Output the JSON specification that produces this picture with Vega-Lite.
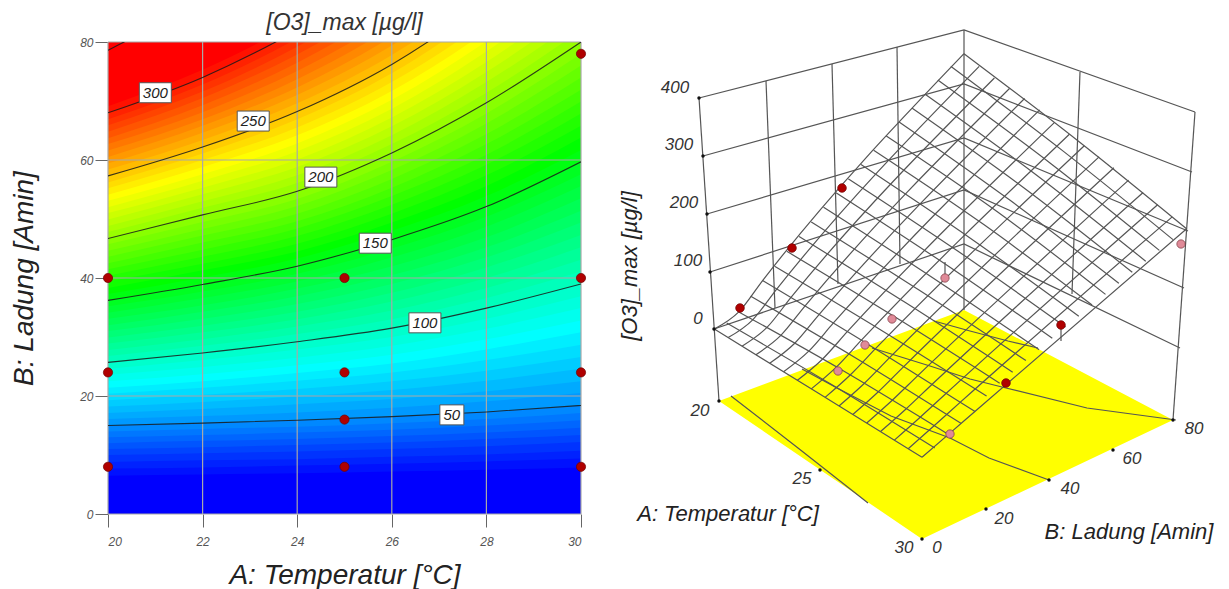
{"$schema":"https://vega.github.io/schema/vega-lite/v6.json","padding":{"left":10,"top":12,"right":0,"bottom":0},"background":"white","spacing":30,"config":{"view":{"stroke":null},"font":"Liberation Sans"},
"datasets":{"contours":[
{"z":0,"A":20,"B":0},{"z":0,"A":22,"B":0},{"z":0,"A":24,"B":0},{"z":0,"A":26,"B":0},{"z":0,"A":28,"B":0},{"z":0,"A":30,"B":0},
{"z":5,"A":20,"B":5},{"z":5,"A":22,"B":5.2},{"z":5,"A":24,"B":5.3},{"z":5,"A":26,"B":5.5},{"z":5,"A":28,"B":5.8},{"z":5,"A":30,"B":6.1},
{"z":10,"A":20,"B":6.5},{"z":10,"A":22,"B":6.7},{"z":10,"A":24,"B":6.9},{"z":10,"A":26,"B":7.2},{"z":10,"A":28,"B":7.5},{"z":10,"A":30,"B":7.9},
{"z":15,"A":20,"B":7.7},{"z":15,"A":22,"B":7.9},{"z":15,"A":24,"B":8.2},{"z":15,"A":26,"B":8.5},{"z":15,"A":28,"B":8.9},{"z":15,"A":30,"B":9.4},
{"z":20,"A":20,"B":8.8},{"z":20,"A":22,"B":9.1},{"z":20,"A":24,"B":9.3},{"z":20,"A":26,"B":9.7},{"z":20,"A":28,"B":10.1},{"z":20,"A":30,"B":10.7},
{"z":25,"A":20,"B":10},{"z":25,"A":22,"B":10.3},{"z":25,"A":24,"B":10.6},{"z":25,"A":26,"B":11},{"z":25,"A":28,"B":11.5},{"z":25,"A":30,"B":12.2},
{"z":30,"A":20,"B":11},{"z":30,"A":22,"B":11.3},{"z":30,"A":24,"B":11.7},{"z":30,"A":26,"B":12.1},{"z":30,"A":28,"B":12.7},{"z":30,"A":30,"B":13.4},
{"z":35,"A":20,"B":12},{"z":35,"A":22,"B":12.4},{"z":35,"A":24,"B":12.7},{"z":35,"A":26,"B":13.2},{"z":35,"A":28,"B":13.8},{"z":35,"A":30,"B":14.6},
{"z":40,"A":20,"B":13},{"z":40,"A":22,"B":13.4},{"z":40,"A":24,"B":13.8},{"z":40,"A":26,"B":14.3},{"z":40,"A":28,"B":15},{"z":40,"A":30,"B":15.9},
{"z":45,"A":20,"B":14},{"z":45,"A":22,"B":14.4},{"z":45,"A":24,"B":14.8},{"z":45,"A":26,"B":15.4},{"z":45,"A":28,"B":16.1},{"z":45,"A":30,"B":17.1},
{"z":50,"A":20,"B":15},{"z":50,"A":22,"B":15.4},{"z":50,"A":24,"B":15.9},{"z":50,"A":26,"B":16.5},{"z":50,"A":28,"B":17.3},{"z":50,"A":30,"B":18.4},
{"z":55,"A":20,"B":16.1},{"z":55,"A":22,"B":16.6},{"z":55,"A":24,"B":17.2},{"z":55,"A":26,"B":18},{"z":55,"A":28,"B":19.1},{"z":55,"A":30,"B":20.5},
{"z":60,"A":20,"B":17.1},{"z":60,"A":22,"B":17.8},{"z":60,"A":24,"B":18.6},{"z":60,"A":26,"B":19.5},{"z":60,"A":28,"B":20.8},{"z":60,"A":30,"B":22.5},
{"z":65,"A":20,"B":18.2},{"z":65,"A":22,"B":19},{"z":65,"A":24,"B":19.9},{"z":65,"A":26,"B":21},{"z":65,"A":28,"B":22.6},{"z":65,"A":30,"B":24.6},
{"z":70,"A":20,"B":19.3},{"z":70,"A":22,"B":20.2},{"z":70,"A":24,"B":21.2},{"z":70,"A":26,"B":22.5},{"z":70,"A":28,"B":24.3},{"z":70,"A":30,"B":26.6},
{"z":75,"A":20,"B":20.4},{"z":75,"A":22,"B":21.4},{"z":75,"A":24,"B":22.6},{"z":75,"A":26,"B":24},{"z":75,"A":28,"B":26.1},{"z":75,"A":30,"B":28.7},
{"z":80,"A":20,"B":21.4},{"z":80,"A":22,"B":22.5},{"z":80,"A":24,"B":23.9},{"z":80,"A":26,"B":25.5},{"z":80,"A":28,"B":27.9},{"z":80,"A":30,"B":30.8},
{"z":85,"A":20,"B":22.5},{"z":85,"A":22,"B":23.7},{"z":85,"A":24,"B":25.2},{"z":85,"A":26,"B":27},{"z":85,"A":28,"B":29.6},{"z":85,"A":30,"B":32.8},
{"z":90,"A":20,"B":23.6},{"z":90,"A":22,"B":24.9},{"z":90,"A":24,"B":26.5},{"z":90,"A":26,"B":28.5},{"z":90,"A":28,"B":31.4},{"z":90,"A":30,"B":34.9},
{"z":95,"A":20,"B":24.6},{"z":95,"A":22,"B":26.1},{"z":95,"A":24,"B":27.9},{"z":95,"A":26,"B":30},{"z":95,"A":28,"B":33.1},{"z":95,"A":30,"B":36.9},
{"z":100,"A":20,"B":25.7},{"z":100,"A":22,"B":27.3},{"z":100,"A":24,"B":29.2},{"z":100,"A":26,"B":31.5},{"z":100,"A":28,"B":34.9},{"z":100,"A":30,"B":39},
{"z":105,"A":20,"B":26.8},{"z":105,"A":22,"B":28.5},{"z":105,"A":24,"B":30.5},{"z":105,"A":26,"B":33},{"z":105,"A":28,"B":36.6},{"z":105,"A":30,"B":41.1},
{"z":110,"A":20,"B":27.8},{"z":110,"A":22,"B":29.6},{"z":110,"A":24,"B":31.8},{"z":110,"A":26,"B":34.5},{"z":110,"A":28,"B":38.3},{"z":110,"A":30,"B":43.1},
{"z":115,"A":20,"B":28.9},{"z":115,"A":22,"B":30.8},{"z":115,"A":24,"B":33},{"z":115,"A":26,"B":36},{"z":115,"A":28,"B":40},{"z":115,"A":30,"B":45.2},
{"z":120,"A":20,"B":29.9},{"z":120,"A":22,"B":31.9},{"z":120,"A":24,"B":34.3},{"z":120,"A":26,"B":37.5},{"z":120,"A":28,"B":41.8},{"z":120,"A":30,"B":47.3},
{"z":125,"A":20,"B":31},{"z":125,"A":22,"B":33.1},{"z":125,"A":24,"B":35.6},{"z":125,"A":26,"B":39},{"z":125,"A":28,"B":43.5},{"z":125,"A":30,"B":49.4},
{"z":130,"A":20,"B":32},{"z":130,"A":22,"B":34.3},{"z":130,"A":24,"B":36.9},{"z":130,"A":26,"B":40.5},{"z":130,"A":28,"B":45.2},{"z":130,"A":30,"B":51.4},
{"z":135,"A":20,"B":33.1},{"z":135,"A":22,"B":35.4},{"z":135,"A":24,"B":38.2},{"z":135,"A":26,"B":42},{"z":135,"A":28,"B":46.9},{"z":135,"A":30,"B":53.5},
{"z":140,"A":20,"B":34.1},{"z":140,"A":22,"B":36.6},{"z":140,"A":24,"B":39.4},{"z":140,"A":26,"B":43.5},{"z":140,"A":28,"B":48.7},{"z":140,"A":30,"B":55.6},
{"z":145,"A":20,"B":35.2},{"z":145,"A":22,"B":37.7},{"z":145,"A":24,"B":40.7},{"z":145,"A":26,"B":45},{"z":145,"A":28,"B":50.4},{"z":145,"A":30,"B":57.6},
{"z":150,"A":20,"B":36.2},{"z":150,"A":22,"B":38.9},{"z":150,"A":24,"B":42},{"z":150,"A":26,"B":46.5},{"z":150,"A":28,"B":52.1},{"z":150,"A":30,"B":59.7},
{"z":155,"A":20,"B":37.3},{"z":155,"A":22,"B":40.1},{"z":155,"A":24,"B":43.3},{"z":155,"A":26,"B":48},{"z":155,"A":28,"B":53.9},{"z":155,"A":30,"B":61.7},
{"z":160,"A":20,"B":38.3},{"z":160,"A":22,"B":41.3},{"z":160,"A":24,"B":44.5},{"z":160,"A":26,"B":49.4},{"z":160,"A":28,"B":55.6},{"z":160,"A":30,"B":63.8},
{"z":165,"A":20,"B":39.4},{"z":165,"A":22,"B":42.4},{"z":165,"A":24,"B":45.8},{"z":165,"A":26,"B":50.9},{"z":165,"A":28,"B":57.4},{"z":165,"A":30,"B":65.8},
{"z":170,"A":20,"B":40.4},{"z":170,"A":22,"B":43.6},{"z":170,"A":24,"B":47.1},{"z":170,"A":26,"B":52.4},{"z":170,"A":28,"B":59.2},{"z":170,"A":30,"B":67.9},
{"z":175,"A":20,"B":41.5},{"z":175,"A":22,"B":44.8},{"z":175,"A":24,"B":48.4},{"z":175,"A":26,"B":53.9},{"z":175,"A":28,"B":60.9},{"z":175,"A":30,"B":69.9},
{"z":180,"A":20,"B":42.5},{"z":180,"A":22,"B":46},{"z":180,"A":24,"B":49.6},{"z":180,"A":26,"B":55.3},{"z":180,"A":28,"B":62.7},{"z":180,"A":30,"B":71.9},
{"z":185,"A":20,"B":43.6},{"z":185,"A":22,"B":47.2},{"z":185,"A":24,"B":50.9},{"z":185,"A":26,"B":56.8},{"z":185,"A":28,"B":64.4},{"z":185,"A":30,"B":74},
{"z":190,"A":20,"B":44.6},{"z":190,"A":22,"B":48.3},{"z":190,"A":24,"B":52.2},{"z":190,"A":26,"B":58.3},{"z":190,"A":28,"B":66.2},{"z":190,"A":30,"B":76},
{"z":195,"A":20,"B":45.7},{"z":195,"A":22,"B":49.5},{"z":195,"A":24,"B":53.4},{"z":195,"A":26,"B":59.7},{"z":195,"A":28,"B":67.9},{"z":195,"A":30,"B":78},
{"z":200,"A":20,"B":46.7},{"z":200,"A":22,"B":50.7},{"z":200,"A":24,"B":54.7},{"z":200,"A":26,"B":61.2},{"z":200,"A":28,"B":69.7},{"z":200,"A":30,"B":80},
{"z":205,"A":20,"B":47.8},{"z":205,"A":22,"B":51.9},{"z":205,"A":24,"B":56.1},{"z":205,"A":26,"B":62.7},{"z":205,"A":28,"B":71.4},{"z":205,"A":30,"B":82},
{"z":210,"A":20,"B":48.8},{"z":210,"A":22,"B":53},{"z":210,"A":24,"B":57.4},{"z":210,"A":26,"B":64.2},{"z":210,"A":28,"B":73.2},{"z":210,"A":30,"B":84},
{"z":215,"A":20,"B":49.9},{"z":215,"A":22,"B":54.2},{"z":215,"A":24,"B":58.8},{"z":215,"A":26,"B":65.7},{"z":215,"A":28,"B":74.9},{"z":215,"A":30,"B":86},
{"z":220,"A":20,"B":51},{"z":220,"A":22,"B":55.3},{"z":220,"A":24,"B":60.1},{"z":220,"A":26,"B":67.2},{"z":220,"A":28,"B":76.6},{"z":220,"A":30,"B":88},
{"z":225,"A":20,"B":52},{"z":225,"A":22,"B":56.5},{"z":225,"A":24,"B":61.5},{"z":225,"A":26,"B":68.7},{"z":225,"A":28,"B":78.4},{"z":225,"A":30,"B":90},
{"z":230,"A":20,"B":53.1},{"z":230,"A":22,"B":57.6},{"z":230,"A":24,"B":62.8},{"z":230,"A":26,"B":70.2},{"z":230,"A":28,"B":80.1},{"z":230,"A":30,"B":92},
{"z":235,"A":20,"B":54.1},{"z":235,"A":22,"B":58.8},{"z":235,"A":24,"B":64.2},{"z":235,"A":26,"B":71.7},{"z":235,"A":28,"B":81.8},{"z":235,"A":30,"B":94},
{"z":240,"A":20,"B":55.2},{"z":240,"A":22,"B":60},{"z":240,"A":24,"B":65.5},{"z":240,"A":26,"B":73.2},{"z":240,"A":28,"B":83.5},{"z":240,"A":30,"B":96},
{"z":245,"A":20,"B":56.2},{"z":245,"A":22,"B":61.1},{"z":245,"A":24,"B":66.9},{"z":245,"A":26,"B":74.7},{"z":245,"A":28,"B":85.3},{"z":245,"A":30,"B":98},
{"z":250,"A":20,"B":57.3},{"z":250,"A":22,"B":62.2},{"z":250,"A":24,"B":68.2},{"z":250,"A":26,"B":76.2},{"z":250,"A":28,"B":87},{"z":250,"A":30,"B":100},
{"z":255,"A":20,"B":58.4},{"z":255,"A":22,"B":63.4},{"z":255,"A":24,"B":69.6},{"z":255,"A":26,"B":77.8},{"z":255,"A":28,"B":88.7},{"z":255,"A":30,"B":102},
{"z":260,"A":20,"B":59.4},{"z":260,"A":22,"B":64.6},{"z":260,"A":24,"B":71},{"z":260,"A":26,"B":79.4},{"z":260,"A":28,"B":90.4},{"z":260,"A":30,"B":104},
{"z":265,"A":20,"B":60.5},{"z":265,"A":22,"B":65.8},{"z":265,"A":24,"B":72.3},{"z":265,"A":26,"B":80.9},{"z":265,"A":28,"B":92.1},{"z":265,"A":30,"B":106},
{"z":270,"A":20,"B":61.6},{"z":270,"A":22,"B":66.9},{"z":270,"A":24,"B":73.7},{"z":270,"A":26,"B":82.5},{"z":270,"A":28,"B":93.8},{"z":270,"A":30,"B":108},
{"z":275,"A":20,"B":62.7},{"z":275,"A":22,"B":68.1},{"z":275,"A":24,"B":75.1},{"z":275,"A":26,"B":84.1},{"z":275,"A":28,"B":95.5},{"z":275,"A":30,"B":110},
{"z":280,"A":20,"B":63.7},{"z":280,"A":22,"B":69.3},{"z":280,"A":24,"B":76.5},{"z":280,"A":26,"B":85.7},{"z":280,"A":28,"B":97.2},{"z":280,"A":30,"B":112},
{"z":285,"A":20,"B":64.8},{"z":285,"A":22,"B":70.5},{"z":285,"A":24,"B":77.9},{"z":285,"A":26,"B":87.3},{"z":285,"A":28,"B":98.9},{"z":285,"A":30,"B":114},
{"z":290,"A":20,"B":65.9},{"z":290,"A":22,"B":71.6},{"z":290,"A":24,"B":79.2},{"z":290,"A":26,"B":88.8},{"z":290,"A":28,"B":100.6},{"z":290,"A":30,"B":116},
{"z":295,"A":20,"B":66.9},{"z":295,"A":22,"B":72.8},{"z":295,"A":24,"B":80.6},{"z":295,"A":26,"B":90.4},{"z":295,"A":28,"B":102.3},{"z":295,"A":30,"B":118},
{"z":300,"A":20,"B":68},{"z":300,"A":22,"B":74},{"z":300,"A":24,"B":82},{"z":300,"A":26,"B":92},{"z":300,"A":28,"B":104},{"z":300,"A":30,"B":120},
{"z":305,"A":20,"B":69.1},{"z":305,"A":22,"B":75.3},{"z":305,"A":24,"B":83.4},{"z":305,"A":26,"B":93.6},{"z":305,"A":28,"B":105.8},{"z":305,"A":30,"B":122},
{"z":350,"A":20,"B":78.6},{"z":350,"A":22,"B":87},{"z":350,"A":24,"B":96},{"z":350,"A":26,"B":108},{"z":350,"A":28,"B":122},{"z":350,"A":30,"B":140}
],
"mesh":[
{"m":"A0","u":716.3,"v":328.1},{"m":"A0","u":740.8,"v":310.9},{"m":"A0","u":764.6,"v":279.6},{"m":"A0","u":966,"v":52.7},
{"m":"A1","u":730.2,"v":336.6},{"m":"A1","u":754.7,"v":318.8},{"m":"A1","u":778.7,"v":288.1},{"m":"A1","u":981.2,"v":65.3},
{"m":"A2","u":744,"v":345.2},{"m":"A2","u":768.7,"v":326.7},{"m":"A2","u":792.8,"v":296.6},{"m":"A2","u":996.4,"v":77},
{"m":"A3","u":757.9,"v":353.7},{"m":"A3","u":782.6,"v":334.6},{"m":"A3","u":806.9,"v":305.1},{"m":"A3","u":1011.5,"v":87.5},
{"m":"A4","u":771.7,"v":362.3},{"m":"A4","u":796.5,"v":342.5},{"m":"A4","u":821,"v":313.6},{"m":"A4","u":1026.6,"v":97.5},
{"m":"A5","u":785.6,"v":370.8},{"m":"A5","u":810.5,"v":350.4},{"m":"A5","u":835.2,"v":322.2},{"m":"A5","u":1041.7,"v":108.9},
{"m":"A6","u":799.4,"v":379.3},{"m":"A6","u":824.4,"v":358.2},{"m":"A6","u":849.3,"v":330.7},{"m":"A6","u":1056.6,"v":121.3},
{"m":"A7","u":813.3,"v":387.9},{"m":"A7","u":838.3,"v":366.1},{"m":"A7","u":863.4,"v":339.2},{"m":"A7","u":1071.4,"v":133.2},
{"m":"A8","u":827.1,"v":396.4},{"m":"A8","u":852.2,"v":374},{"m":"A8","u":877.5,"v":347.7},{"m":"A8","u":1086.3,"v":144.8},
{"m":"A9","u":841,"v":405},{"m":"A9","u":866.2,"v":382.5},{"m":"A9","u":891.6,"v":356.7},{"m":"A9","u":1101.1,"v":155.8},
{"m":"A10","u":854.8,"v":413.5},{"m":"A10","u":880.1,"v":391},{"m":"A10","u":905.7,"v":365.6},{"m":"A10","u":1115.9,"v":166.8},
{"m":"A11","u":868.7,"v":422},{"m":"A11","u":894,"v":399.5},{"m":"A11","u":919.8,"v":374.6},{"m":"A11","u":1130.6,"v":179.1},
{"m":"A12","u":882.5,"v":430.6},{"m":"A12","u":908,"v":408},{"m":"A12","u":933.9,"v":383.5},{"m":"A12","u":1145.1,"v":191.5},
{"m":"A13","u":896.4,"v":439.1},{"m":"A13","u":921.9,"v":416.5},{"m":"A13","u":948,"v":392.5},{"m":"A13","u":1159.6,"v":203.8},
{"m":"A14","u":910.2,"v":447.7},{"m":"A14","u":935.8,"v":425},{"m":"A14","u":962.1,"v":401.4},{"m":"A14","u":1174.2,"v":215.9},
{"m":"A15","u":924,"v":456.2},{"m":"A15","u":950.5,"v":433.4},{"m":"A15","u":976.9,"v":410.5},{"m":"A15","u":1188.6,"v":227.8},
{"m":"B0","u":716.3,"v":328.1},{"m":"B0","u":820.1,"v":392.1},{"m":"B0","u":924,"v":456.2},
{"m":"B1","u":728.7,"v":322.1},{"m":"B1","u":832.7,"v":383},{"m":"B1","u":936.8,"v":447},
{"m":"B2","u":740.8,"v":310.9},{"m":"B2","u":845.2,"v":369.8},{"m":"B2","u":950.5,"v":433.4},
{"m":"B3","u":752.6,"v":295.2},{"m":"B3","u":857.7,"v":357},{"m":"B3","u":963,"v":422.4},
{"m":"B4","u":764.6,"v":279.6},{"m":"B4","u":870.2,"v":343.4},{"m":"B4","u":976.9,"v":410.5},
{"m":"B5","u":776.6,"v":265.2},{"m":"B5","u":882.8,"v":328.9},{"m":"B5","u":988.6,"v":395},
{"m":"B6","u":788.8,"v":250.3},{"m":"B6","u":895.5,"v":315.1},{"m":"B6","u":1001.7,"v":382.2},
{"m":"B7","u":801,"v":235.5},{"m":"B7","u":908.2,"v":302.1},{"m":"B7","u":1014.7,"v":371.2},
{"m":"B8","u":813.2,"v":220.9},{"m":"B8","u":921,"v":289.1},{"m":"B8","u":1027.9,"v":359.6},
{"m":"B9","u":825.5,"v":206.2},{"m":"B9","u":933.9,"v":276.2},{"m":"B9","u":1041,"v":348.7},
{"m":"B10","u":838,"v":191.7},{"m":"B10","u":946.8,"v":262.8},{"m":"B10","u":1054.3,"v":337.2},
{"m":"B11","u":850.4,"v":177.8},{"m":"B11","u":959.7,"v":250},{"m":"B11","u":1067.5,"v":325.9},
{"m":"B12","u":863,"v":163.5},{"m":"B12","u":972.7,"v":237.4},{"m":"B12","u":1080.8,"v":315.2},
{"m":"B13","u":875.6,"v":149.2},{"m":"B13","u":985.8,"v":223.6},{"m":"B13","u":1094.1,"v":304},
{"m":"B14","u":888.3,"v":135},{"m":"B14","u":999,"v":210.5},{"m":"B14","u":1107.5,"v":293.4},
{"m":"B15","u":901.1,"v":120.9},{"m":"B15","u":1012.1,"v":199.3},{"m":"B15","u":1120.9,"v":282.3},
{"m":"B16","u":913.9,"v":106.9},{"m":"B16","u":1025.4,"v":186.4},{"m":"B16","u":1134.3,"v":271.3},
{"m":"B17","u":926.8,"v":92.9},{"m":"B17","u":1038.7,"v":174.2},{"m":"B17","u":1147.8,"v":260.3},
{"m":"B18","u":939.8,"v":79.1},{"m":"B18","u":1052,"v":162},{"m":"B18","u":1161.4,"v":249.4},
{"m":"B19","u":952.9,"v":65.3},{"m":"B19","u":1065.5,"v":150.4},{"m":"B19","u":1175,"v":238.6},
{"m":"B20","u":966,"v":52.7},{"m":"B20","u":1078.9,"v":139},{"m":"B20","u":1188.6,"v":227.8}
],
"walls":[
{"w":"t","u":701,"v":97},{"w":"t","u":966,"v":29},{"w":"t","u":1197,"v":111},
{"w":"z3","u":705,"v":155},{"w":"z3","u":966,"v":83},{"w":"z3","u":1194,"v":171},
{"w":"z2","u":709,"v":213},{"w":"z2","u":966,"v":137},{"w":"z2","u":1190,"v":230},
{"w":"z1","u":712,"v":271},{"w":"z1","u":966,"v":189},{"w":"z1","u":1186,"v":287},
{"w":"z0","u":716,"v":328},{"w":"z0","u":966,"v":243},{"w":"z0","u":1182,"v":347},
{"w":"c0","u":701,"v":97},{"w":"c0","u":721,"v":400},
{"w":"c1","u":966,"v":29},{"w":"c1","u":966,"v":309},
{"w":"c2","u":1197,"v":111},{"w":"c2","u":1175,"v":419},
{"w":"l1","u":768,"v":80},{"w":"l1","u":777,"v":307},
{"w":"l2","u":834,"v":63},{"w":"l2","u":840,"v":283},
{"w":"l3","u":899,"v":46},{"w":"l3","u":902,"v":263},
{"w":"r1","u":1082,"v":71},{"w":"r1","u":1074,"v":293},
{"w":"f1","u":733,"v":395},{"w":"f1","u":800,"v":447},{"w":"f1","u":870,"v":502},
{"w":"f2","u":804,"v":368},{"w":"f2","u":839,"v":387},{"w":"f2","u":893,"v":415},{"w":"f2","u":952,"v":437},{"w":"f2","u":991,"v":457},{"w":"f2","u":1051,"v":479},
{"w":"f3","u":874,"v":347},{"w":"f3","u":932,"v":365},{"w":"f3","u":972,"v":378},{"w":"f3","u":1008,"v":387},{"w":"f3","u":1089,"v":407},{"w":"f3","u":1178,"v":419},
{"w":"f4","u":936,"v":320},{"w":"f4","u":972,"v":330},{"w":"f4","u":1010,"v":340},{"w":"f4","u":1040,"v":347},
{"w":"s1","u":947,"v":261},{"w":"s1","u":947,"v":277},
{"w":"s2","u":1063,"v":324},{"w":"s2","u":1063,"v":340}
]},
"hconcat":[
{"width":473,"height":472,"title":{"text":"[O3]_max [µg/l]","fontStyle":"italic","fontWeight":"normal","fontSize":23,"color":"#333","offset":1},
"layer":[
{"data":{"name":"contours"},"mark":{"type":"area","clip":true,"interpolate":"monotone"},"encoding":{
"x":{"field":"A","type":"quantitative","scale":{"domain":[20,30],"nice":false},"axis":{"values":[20,22,24,26,28,30],"title":"A: Temperatur [°C]","titleFontSize":28,"titleFontStyle":"italic","titleFontWeight":"normal","titleColor":"#222","titlePadding":14,"labelFontStyle":"italic","labelFontSize":12,"labelColor":"#555","tickSize":13,"tickColor":"#666","domain":false,"grid":false,"labelPadding":9}},
"y":{"field":"B","type":"quantitative","stack":null,"scale":{"domain":[0,80],"nice":false},"axis":{"values":[0,20,40,60,80],"title":"B: Ladung [Amin]","titleFontSize":28,"titleFontStyle":"italic","titleFontWeight":"normal","titleColor":"#222","titlePadding":41,"labelFontStyle":"italic","labelFontSize":12,"labelColor":"#555","tickSize":13,"tickColor":"#666","domain":false,"grid":false,"labelPadding":2}},
"y2":{"datum":80},
"color":{"field":"z","type":"quantitative","legend":null,"scale":{"domain":[5,80,155,230,305],"range":["#0000ff","#00ffff","#00ff00","#ffff00","#ff0000"],"interpolate":"rgb","clamp":true}},
"detail":{"field":"z","type":"quantitative"}}},
{"data":{"values":[{"A":20},{"A":22},{"A":24},{"A":26},{"A":28},{"A":30}]},"mark":{"type":"rule","color":"#a8a8a8","strokeWidth":1.2},"encoding":{"x":{"field":"A","type":"quantitative"}}},
{"data":{"values":[{"B":0},{"B":20},{"B":40},{"B":60},{"B":80}]},"mark":{"type":"rule","color":"#a8a8a8","strokeWidth":1.2},"encoding":{"y":{"field":"B","type":"quantitative"}}},
{"data":{"name":"contours"},"transform":[{"filter":{"field":"z","oneOf":[50,100,150,200,250,300,350]}}],"mark":{"type":"line","clip":true,"interpolate":"monotone","color":"#1a1a1a","strokeWidth":1.1,"opacity":0.85},"encoding":{"x":{"field":"A","type":"quantitative"},"y":{"field":"B","type":"quantitative"},"detail":{"field":"z","type":"nominal"}}},
{"data":{"values":[{"A":20,"B":40},{"A":25,"B":40},{"A":30,"B":40},{"A":20,"B":24},{"A":25,"B":24},{"A":30,"B":24},{"A":25,"B":16},{"A":20,"B":8},{"A":25,"B":8},{"A":30,"B":8},{"A":30,"B":78}]},"mark":{"type":"point","filled":true,"size":85,"color":"#b00000","stroke":"#700000","strokeWidth":0.7,"opacity":1},"encoding":{"x":{"field":"A","type":"quantitative"},"y":{"field":"B","type":"quantitative"}}},
{"data":{"values":[{"A":21,"B":71.4,"t":"300"},{"A":23.07,"B":66.6,"t":"250"},{"A":24.5,"B":57.1,"t":"200"},{"A":25.65,"B":45.9,"t":"150"},{"A":26.7,"B":32.4,"t":"100"}]},"mark":{"type":"rect","width":32,"height":20,"fill":"white","stroke":"#555","strokeWidth":1},"encoding":{"x":{"field":"A","type":"quantitative"},"y":{"field":"B","type":"quantitative"}}},
{"data":{"values":[{"A":27.27,"B":16.8,"t":"50"}]},"mark":{"type":"rect","width":24,"height":20,"fill":"white","stroke":"#555","strokeWidth":1},"encoding":{"x":{"field":"A","type":"quantitative"},"y":{"field":"B","type":"quantitative"}}},
{"data":{"values":[{"A":21,"B":71.4,"t":"300"},{"A":23.07,"B":66.6,"t":"250"},{"A":24.5,"B":57.1,"t":"200"},{"A":25.65,"B":45.9,"t":"150"},{"A":26.7,"B":32.4,"t":"100"},{"A":27.27,"B":16.8,"t":"50"}]},"mark":{"type":"text","fontSize":15,"fontStyle":"italic","color":"#222"},"encoding":{"x":{"field":"A","type":"quantitative"},"y":{"field":"B","type":"quantitative"},"text":{"field":"t"}}}
],"resolve":{"scale":{"color":"independent"}}},
{"width":609,"height":508,
"encoding":{"x":{"field":"u","type":"quantitative","axis":null,"scale":{"domain":[620,1229],"nice":false}},"y":{"field":"v","type":"quantitative","axis":null,"scale":{"domain":[549,41],"nice":false}}},
"layer":[
{"data":{"values":[{"u":721,"v":400,"v2":400},{"u":924,"v":324.6,"v2":538},{"u":966,"v":309,"v2":518.1},{"u":1175,"v":419,"v2":419}]},"mark":{"type":"area","color":"#ffff00"},"encoding":{"y2":{"field":"v2"}}},
{"data":{"name":"walls"},"mark":{"type":"line","color":"#555","strokeWidth":1.2},"encoding":{"detail":{"field":"w"}}},
{"data":{"name":"mesh"},"mark":{"type":"line","color":"#555","strokeWidth":1.2,"interpolate":"monotone"},"encoding":{"detail":{"field":"m"}}},
{"data":{"values":[{"u":701,"v":97},{"u":705,"v":155},{"u":709,"v":213},{"u":712,"v":271},{"u":716,"v":328},{"u":721,"v":400},{"u":822,"v":469},{"u":924,"v":538},{"u":988,"v":508},{"u":1051,"v":479},{"u":1115,"v":449},{"u":1175,"v":419}]},"mark":{"type":"point","filled":true,"size":12,"color":"#111","opacity":1}},
{"data":{"values":[{"u":947,"v":277},{"u":1183,"v":243},{"u":894,"v":318},{"u":867,"v":344},{"u":840,"v":370},{"u":952,"v":433}]},"mark":{"type":"point","filled":true,"size":70,"color":"#e08a98","stroke":"#7a3a40","strokeWidth":0.7,"opacity":1}},
{"data":{"values":[{"u":794,"v":247},{"u":844,"v":187},{"u":742,"v":307},{"u":1008,"v":382},{"u":1063,"v":324}]},"mark":{"type":"point","filled":true,"size":75,"color":"#b00000","stroke":"#700000","strokeWidth":0.7,"opacity":1}},
{"data":{"values":[{"u":677,"v":87,"t":"400"},{"u":681,"v":144,"t":"300"},{"u":686,"v":202,"t":"200"},{"u":690,"v":260,"t":"100"},{"u":700,"v":318,"t":"0"},{"u":702,"v":410,"t":"20"},{"u":804,"v":478,"t":"25"},{"u":906,"v":547,"t":"30"},{"u":939,"v":547,"t":"0"},{"u":1006,"v":518,"t":"20"},{"u":1072,"v":488,"t":"40"},{"u":1134,"v":458,"t":"60"},{"u":1196,"v":428,"t":"80"}]},"mark":{"type":"text","fontSize":17,"fontStyle":"italic","color":"#333"},"encoding":{"text":{"field":"t"}}},
{"data":{"values":[{"u":730,"v":513,"t":"A: Temperatur [°C]"},{"u":1131,"v":531,"t":"B: Ladung [Amin]"}]},"mark":{"type":"text","fontSize":22,"fontStyle":"italic","color":"#222"},"encoding":{"text":{"field":"t"}}},
{"data":{"values":[{"u":632,"v":265,"t":"[O3]_max [µg/l]"}]},"mark":{"type":"text","fontSize":22,"fontStyle":"italic","color":"#222","angle":270},"encoding":{"text":{"field":"t"}}}
]}
]}
